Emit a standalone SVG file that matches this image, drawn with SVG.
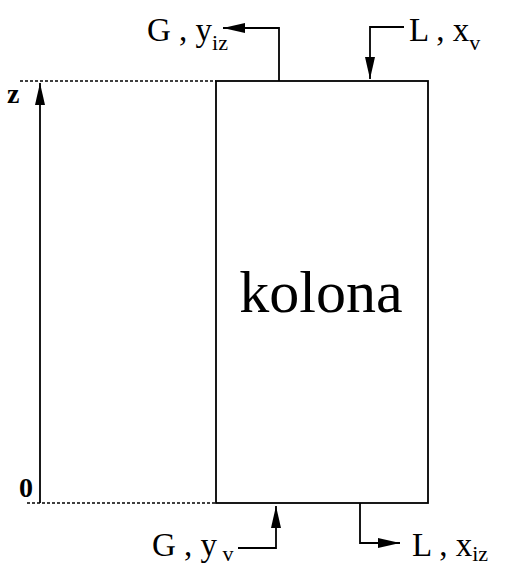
<svg xmlns="http://www.w3.org/2000/svg" width="505" height="566" viewBox="0 0 505 566">
<style>
.ln{fill:none;stroke:#000;stroke-width:1.8}
.dash{fill:none;stroke:#000;stroke-width:1.3;stroke-dasharray:3,2}
.lbl{font-family:"Liberation Serif","Times New Roman",serif;font-size:33px;fill:#000}
.sub{font-size:22px}
.big{font-family:"Liberation Serif","Times New Roman",serif;font-size:60px;fill:#000}
.ax{font-family:"Liberation Serif","Times New Roman",serif;font-size:28px;font-weight:bold;fill:#000}
</style>
<defs>
<marker id="ah" markerUnits="userSpaceOnUse" markerWidth="24" markerHeight="12" refX="22" refY="6" orient="auto">
<path d="M0,1 L22,6 L0,11 Z" fill="#000"/>
</marker>
</defs>
<rect width="505" height="566" fill="#fff"/>
<g id="kolona">
<rect x="216" y="81" width="212" height="422" class="ln"/>
<text x="321" y="312" text-anchor="middle" class="big">kolona</text>
</g>
<g id="axis">
<line x1="20" y1="81" x2="216" y2="81" class="dash"/>
<line x1="27" y1="503" x2="216" y2="503" class="dash"/>
<text x="7" y="103" class="ax">z</text>
<text x="19" y="497" class="ax">0</text>
</g>
<g id="labels">
<text x="147" y="41" class="lbl">G , y<tspan class="sub" dy="9">iz</tspan></text>
<text x="409" y="41" class="lbl">L , x<tspan class="sub" dy="9">v</tspan></text>
<text x="152" y="556" class="lbl">G , y<tspan class="sub" dy="5"> v</tspan></text>
<text x="412" y="556" class="lbl">L , x<tspan class="sub" dy="5">iz</tspan></text>
</g>
<g id="connectors">
<polyline points="40,503 40,83" class="ln" marker-end="url(#ah)"/>
<polyline points="279,81 279,28 223,28" class="ln" marker-end="url(#ah)"/>
<polyline points="404,27 370,27 370,79" class="ln" marker-end="url(#ah)"/>
<polyline points="238,548 276,548 276,506" class="ln" marker-end="url(#ah)"/>
<polyline points="360,503 360,543 400,543" class="ln" marker-end="url(#ah)"/>
</g>
</svg>
